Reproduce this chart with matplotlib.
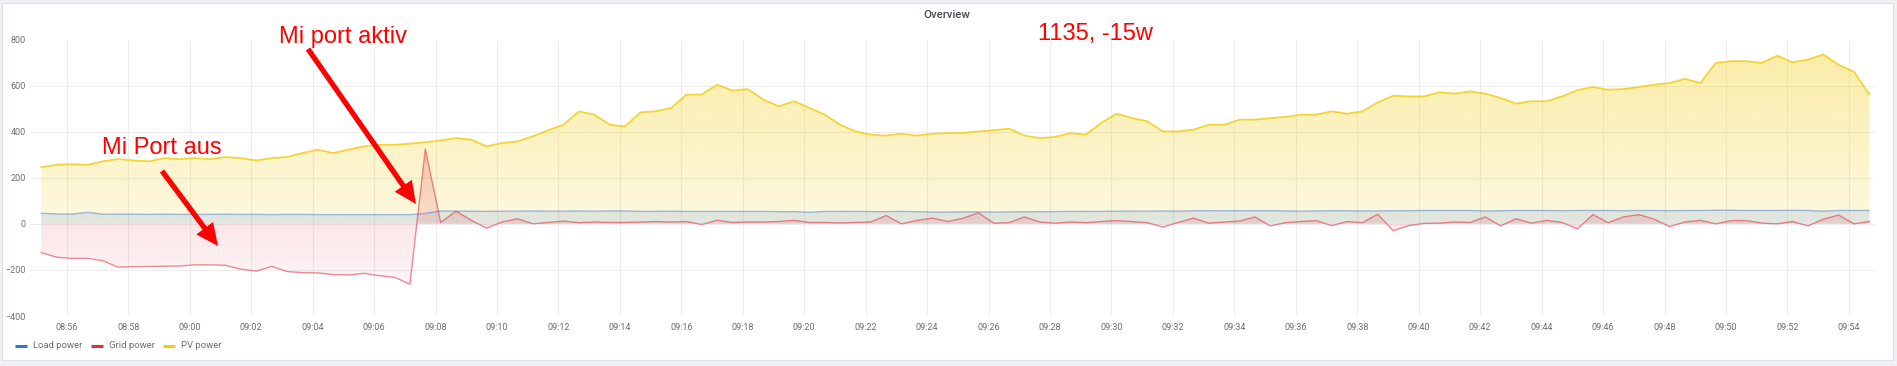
import numpy as np
import pandas as pd
import matplotlib
matplotlib.use("Agg")
import matplotlib.pyplot as plt
import matplotlib.dates as mdates
from matplotlib.colors import to_rgb
from matplotlib.lines import Line2D
from matplotlib.patches import Rectangle
from matplotlib.path import Path

# one sample every 30 s
times = pd.date_range("2023-05-20 08:55:10", periods=120, freq="30s")

pv_power = [246, 256, 259, 256, 271, 281, 275, 271, 285, 281,
            285, 281, 290, 285, 275, 285, 290, 307, 322, 307,
            322, 336, 343, 343, 348, 354, 362, 372, 365, 336,
            351, 358, 380, 406, 430, 488, 474, 430, 423, 484,
            488, 503, 561, 561, 604, 578, 585, 539, 510, 532,
            503, 474, 430, 401, 387, 383, 391, 383, 391, 394,
            394, 401, 406, 413, 383, 372, 377, 394, 387, 438,
            478, 459, 445, 401, 401, 409, 430, 430, 452, 452,
            459, 464, 474, 474, 488, 478, 488, 527, 556, 553,
            553, 571, 565, 575, 565, 546, 522, 532, 532, 553,
            580, 594, 582, 585, 594, 604, 611, 629, 611, 698,
            706, 706, 698, 730, 701, 713, 735, 690, 660, 561]

grid_power = [-125, -145, -150, -150, -160, -188, -186, -185, -184, -183,
              -178, -178, -180, -197, -205, -185, -207, -212, -213, -220,
              -222, -215, -225, -232, -262, 325, 6, 55, 15, -19,
              8, 22, 0, 6, 12, 5, 8, 6, 6, 8,
              10, 8, 10, -3, 16, 6, 8, 8, 10, 15,
              6, 6, 4, 6, 8, 36, 0, 15, 25, 10,
              24, 48, 3, 5, 30, 8, 3, 8, 5, 10,
              14, 10, 5, -14, 6, 25, 3, 8, 12, 30,
              -9, 5, 10, 14, -8, 10, 5, 42, -30, -8,
              2, 3, 8, 6, 30, -9, 22, 3, 15, 6,
              -22, 40, 5, 30, 40, 20, -12, 8, 15, 0,
              14, 14, 3, 0, 10, -9, 20, 38, 0, 10]

load_power = [46, 43, 42, 50, 42, 42, 42, 41, 42, 41,
              41, 41, 42, 41, 41, 40, 41, 41, 40, 40,
              40, 40, 40, 40, 40, 45, 56, 55, 55, 54,
              55, 55, 56, 55, 55, 56, 55, 56, 56, 54,
              54, 55, 54, 54, 54, 54, 54, 54, 53, 53,
              50, 54, 54, 54, 53, 53, 54, 53, 51, 51,
              52, 52, 51, 52, 52, 53, 53, 54, 54, 54,
              55, 55, 55, 56, 55, 57, 57, 57, 57, 57,
              57, 56, 55, 56, 57, 57, 56, 56, 57, 57,
              58, 58, 58, 58, 56, 57, 58, 58, 58, 57,
              58, 58, 58, 57, 58, 58, 57, 58, 58, 59,
              59, 58, 58, 58, 59, 58, 55, 58, 58, 58]

series_names = ["Load power", "Grid power", "PV power"]
series_colors = ["#3274D9", "#E02F44", "#F2CC0C"]
y_ticks = [-400, -200, 0, 200, 400, 600, 800]
x_start = pd.Timestamp("2023-05-20 08:54:48")
x_end = pd.Timestamp("2023-05-20 09:54:51")

W, H = 1897, 366
fig = plt.figure(figsize=(W / 100, H / 100), dpi=100, facecolor="#eef0f3")
fig.add_artist(Rectangle((2 / W, 6 / H), 1891 / W, 357 / H, transform=fig.transFigure,
                         facecolor="white", edgecolor="#dcdfe4", lw=0.8, zorder=0))

ax = fig.add_axes([30 / W, 50 / H, 1845 / W, 276.5 / H])
ax.set_facecolor("none")


def gradient_fill(ax, x, y, color, top_alpha=0.38):
    # grafana style opacity gradient, clipped to the area under the series
    poly = ax.fill_between(x, 0, y, facecolor="none", edgecolor="none")
    clip = Path.make_compound_path(*poly.get_paths())
    rgba = np.zeros((256, 1, 4))
    rgba[..., :3] = to_rgb(color)
    rgba[..., 3] = np.linspace(top_alpha, 0, 256).reshape(-1, 1)
    im = ax.imshow(rgba, aspect="auto", origin="upper", interpolation="bilinear",
                   extent=[mdates.date2num(x_start), mdates.date2num(x_end), -400, 800],
                   zorder=1)
    im.set_clip_path(clip, transform=ax.transData)


ax.plot(times, load_power, color=series_colors[0], lw=1.0, alpha=0.45, zorder=3)
ax.plot(times, grid_power, color=series_colors[1], lw=1.0, alpha=0.55, zorder=3)
ax.plot(times, pv_power, color=series_colors[2], lw=1.3, alpha=0.8, zorder=3)
gradient_fill(ax, times, pv_power, series_colors[2])
gradient_fill(ax, times, load_power, series_colors[0])
gradient_fill(ax, times, grid_power, series_colors[1])

ax.set_xlim(x_start, x_end)
ax.set_ylim(-400, 800)
ax.set_yticks(y_ticks)
ax.xaxis.set_major_locator(mdates.MinuteLocator(byminute=range(0, 60, 2)))
ax.xaxis.set_major_formatter(mdates.DateFormatter("%H:%M"))
ax.set_axisbelow(True)
ax.grid(True, color="#ededed", lw=0.8)
for s in ax.spines.values():
    s.set_visible(False)
ax.tick_params(axis="both", length=0, labelsize=6.5, labelcolor="#6c6f75")
ax.tick_params(axis="x", pad=5)
ax.tick_params(axis="y", pad=3)
for lab in ax.get_xticklabels() + ax.get_yticklabels():
    lab.set_family("Roboto")

fig.text(947 / W, 1 - 15 / H, "Overview", ha="center", va="center", fontsize=8.2,
         color="#464c54", fontweight="medium", family="Roboto")

# legend under the plot, laid out like the grafana one
legend_x = [15, 91, 163]
legend_y = 1 - 345.5 / H
for name, color, lx in zip(series_names, series_colors, legend_x):
    fig.add_artist(Line2D([lx / W, (lx + 12) / W], [legend_y, legend_y], color=color,
                          lw=2.2, solid_capstyle="butt", transform=fig.transFigure))
    fig.text((lx + 18) / W, legend_y, name, ha="left", va="center", fontsize=6.8,
             color="#6c6f75", family="Roboto")

# red notes drawn on top of the screenshot
note_font = dict(family="Liberation Sans", fontsize=17, color="#ff0000", va="baseline")
fig.text(1038 / W, 1 - 40 / H, "1135, -15w", **note_font)
fig.text(279 / W, 1 - 42.7 / H, "Mi port aktiv", **note_font)
fig.text(102 / W, 1 - 154 / H, "Mi Port aus", **note_font)

arrow = dict(arrowstyle="simple,head_length=1.6,head_width=1.5,tail_width=0.38",
             mutation_scale=10, fc="#ff0000", ec="none", lw=0, shrinkA=0, shrinkB=0)
ax.annotate("", xy=(218, H - 246), xytext=(162, H - 171), xycoords="figure pixels",
            textcoords="figure pixels", arrowprops=arrow, annotation_clip=False)
ax.annotate("", xy=(416, H - 204), xytext=(308, H - 49), xycoords="figure pixels",
            textcoords="figure pixels", arrowprops=arrow, annotation_clip=False)

fig.savefig("out.png", dpi=100, facecolor=fig.get_facecolor())
